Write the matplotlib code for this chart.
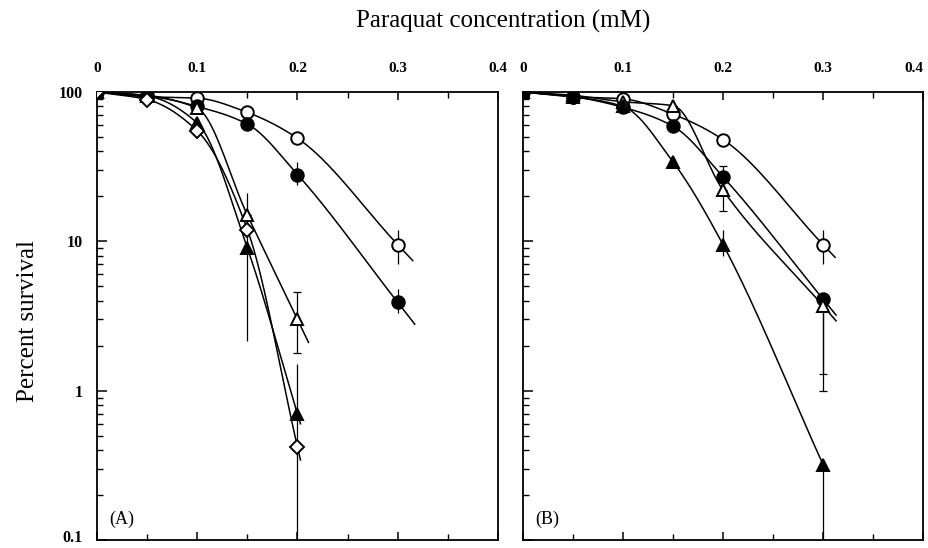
import numpy as np
import matplotlib
matplotlib.use("Agg")
import matplotlib.pyplot as plt
import matplotlib.transforms as mtransforms
from matplotlib.ticker import LogLocator, MultipleLocator, NullFormatter, FixedLocator

plt.rcParams["font.family"] = ["Liberation Serif", "DejaVu Serif"]

# ---------------------------------------------------------------------------
# data (percent survival vs paraquat concentration, mM)
# ---------------------------------------------------------------------------
conc = [0.0, 0.05, 0.1, 0.15, 0.2, 0.3]

# panel A
a_open_circle = [100, 93, 91, 73, 49, 9.5]
a_filled_circle = [100, 95, 80, 61, 28, 3.9]
a_open_tri = [100, 94, 78, 15, 3.0]
a_filled_tri = [100, 94, 62, 9.0, 0.70]
a_open_diamond = [100, 89, 55, 12, 0.42]

# error bar ends (low, high) per point
a_open_circle_err = [(100, 100), (93, 93), (91, 91), (73, 73), (49, 49), (7.0, 12.0)]
a_filled_circle_err = [(100, 100), (95, 95), (80, 80), (61, 61), (24, 34), (3.3, 4.8)]
a_open_tri_err = [(100, 100), (94, 94), (78, 78), (15, 15), (1.8, 4.6)]
a_filled_tri_err = [(100, 100), (94, 94), (62, 62), (2.15, 21), (0.42, 1.5)]
a_open_diamond_err = [(100, 100), (89, 89), (55, 55), (12, 12), (0.1, 0.42)]

# panel B
b_open_circle = [100, 93, 90, 71, 48, 9.5]
b_filled_circle = [100, 93, 79, 59, 27, 4.1]
b_open_tri = [100, 95, 86, 81, 22, 3.7]
b_filled_tri = [100, 93, 80, 34, 9.5, 0.32]

b_open_circle_err = [(100, 100), (93, 93), (90, 90), (71, 71), (48, 48), (7.0, 12.0)]
b_filled_circle_err = [(100, 100), (93, 93), (79, 79), (59, 59), (27, 32), (1.29, 4.1)]
b_open_tri_err = [(100, 100), (95, 95), (86, 86), (81, 81), (16, 22), (1.0, 3.7)]
b_filled_tri_err = [(100, 100), (93, 93), (80, 80), (34, 34), (8.0, 12.0), (0.1, 0.32)]

x_ticks = [0, 0.1, 0.2, 0.3, 0.4]
x_tick_labels = ["0", "0.1", "0.2", "0.3", "0.4"]
y_ticks = [0.1, 1, 10, 100]
y_tick_labels = ["0.1", "1", "10", "100"]


def pchip(x, y, xs):
    # monotone cubic through the points (in log space), for the hand-drawn look
    x = np.asarray(x, float); y = np.asarray(y, float)
    h = np.diff(x); d = np.diff(y) / h
    m = np.zeros_like(y)
    for k in range(1, len(x) - 1):
        if d[k - 1] * d[k] > 0:
            w1 = 2 * h[k] + h[k - 1]; w2 = h[k] + 2 * h[k - 1]
            m[k] = (w1 + w2) / (w1 / d[k - 1] + w2 / d[k])
    m[0] = d[0]; m[-1] = d[-1]
    out = np.empty_like(xs)
    for i, xv in enumerate(xs):
        k = min(max(np.searchsorted(x, xv) - 1, 0), len(x) - 2)
        t = (xv - x[k]) / h[k]
        h00 = 2 * t**3 - 3 * t**2 + 1; h10 = t**3 - 2 * t**2 + t
        h01 = -2 * t**3 + 3 * t**2; h11 = t**3 - t**2
        out[i] = h00 * y[k] + h10 * h[k] * m[k] + h01 * y[k + 1] + h11 * h[k] * m[k + 1]
    return out


def draw_series(ax, y, err, marker, face, ext, capsize=0):
    x = conc[:len(y)]
    ly = np.log10(y)
    xs = np.linspace(x[0], x[-1], 200)
    ys = pchip(x, ly, xs)
    slope = (ly[-1] - ly[-2]) / (x[-1] - x[-2])
    xe = np.linspace(x[-1], x[-1] + ext, 10)
    ye = ly[-1] + slope * (xe - x[-1])
    ax.plot(np.r_[xs, xe], 10 ** np.r_[ys, ye], color="black", lw=1.1, zorder=2)
    lo = np.array([y[i] - err[i][0] for i in range(len(y))])
    hi = np.array([err[i][1] - y[i] for i in range(len(y))])
    ax.errorbar(x, y, yerr=[lo, hi], fmt="none", ecolor="black", elinewidth=0.9,
                capsize=capsize, capthick=0.9, zorder=2)
    ax.plot(x, y, linestyle="none", marker=marker, markersize=9 if marker != "D" else 7,
            markerfacecolor=face, markeredgecolor="black", markeredgewidth=1.4, zorder=3)


fig = plt.figure(figsize=(9.29, 5.48), dpi=100)
ax_a = fig.add_axes([0.1044, 0.0146, 0.4316, 0.8175])
ax_b = fig.add_axes([0.563, 0.0146, 0.4306, 0.8175])

draw_series(ax_a, a_open_circle, a_open_circle_err, "o", "white", 0.015)
draw_series(ax_a, a_filled_circle, a_filled_circle_err, "o", "black", 0.017)
draw_series(ax_a, a_open_tri, a_open_tri_err, "^", "white", 0.011, capsize=3)
draw_series(ax_a, a_filled_tri, a_filled_tri_err, "^", "black", 0.003)
draw_series(ax_a, a_open_diamond, a_open_diamond_err, "D", "white", 0.003)

draw_series(ax_b, b_open_circle, b_open_circle_err, "o", "white", 0.012)
draw_series(ax_b, b_filled_circle, b_filled_circle_err, "o", "black", 0.013, capsize=3)
draw_series(ax_b, b_open_tri, b_open_tri_err, "^", "white", 0.013, capsize=3)
draw_series(ax_b, b_filled_tri, b_filled_tri_err, "^", "black", 0.0)

for ax, label in [(ax_a, "(A)"), (ax_b, "(B)")]:
    ax.set_yscale("log")
    ax.set_xlim(0, 0.4)
    ax.set_ylim(0.1, 100)
    for s in ax.spines.values():
        s.set_linewidth(1.3)
    ax.xaxis.set_ticks_position("both")
    ax.xaxis.set_major_locator(FixedLocator(x_ticks))
    ax.xaxis.set_minor_locator(MultipleLocator(0.05))
    ax.tick_params(axis="x", which="major", direction="in", length=6, width=1.1,
                   top=True, bottom=True, labeltop=True, labelbottom=False, pad=12)
    ax.tick_params(axis="x", which="minor", direction="in", length=4, width=1.0,
                   top=True, bottom=True)
    ax.set_xticklabels(x_tick_labels, fontsize=11, fontweight="bold")
    ax.yaxis.set_major_locator(FixedLocator(y_ticks))
    ax.yaxis.set_minor_locator(LogLocator(base=10, subs=np.arange(2, 10)))
    ax.yaxis.set_minor_formatter(NullFormatter())
    ax.tick_params(axis="y", which="major", direction="in", length=7, width=1.1,
                   left=True, right=False, pad=10)
    ax.tick_params(axis="y", which="minor", direction="in", length=4, width=1.0,
                   left=True, right=False)
    ax.text(0.012, 0.12, label, transform=ax.transData, fontsize=13,
            ha="left", va="bottom")

# the last top label of panel B sits a little left of its tick in the original
ax_b.get_xticklabels()[-1].set_horizontalalignment("right")

ax_a.set_yticklabels(y_tick_labels, fontsize=11.5, fontweight="bold")
ax_b.set_yticklabels([])
# keep the bottom "0.1" label inside the figure edge
low_lab = ax_a.get_yticklabels()[0]
low_lab.set_transform(low_lab.get_transform() +
                      mtransforms.ScaledTranslation(0, 4 / 100, fig.dpi_scale_trans))

fig.text(0.542, 0.96, "Paraquat concentration (mM)", fontsize=18, ha="center", va="center")
fig.text(0.03, 0.415, "Percent survival", fontsize=18, rotation=90, ha="center", va="center")

fig.savefig("out.png", dpi=100)
